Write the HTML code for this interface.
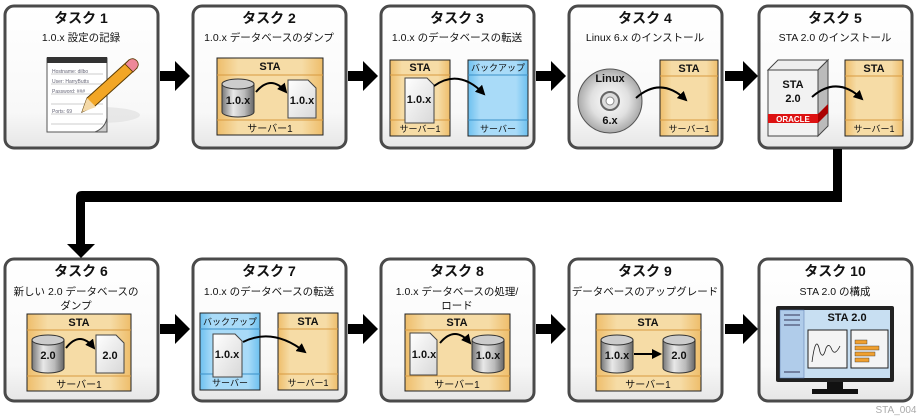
<!DOCTYPE html>
<html><head><meta charset="utf-8"><style>
html,body{margin:0;padding:0;background:#fff;width:922px;height:418px;overflow:hidden}
svg{display:block}
text{font-family:"Liberation Sans","Noto Sans CJK JP",sans-serif}
.t{font-size:14px;font-weight:bold;text-anchor:middle;fill:#111}
.s{font-size:10.5px;text-anchor:middle;fill:#111}
.b{font-size:11px;font-weight:bold;text-anchor:middle;fill:#111}
.f{font-size:10px;text-anchor:middle;fill:#111}
.g{font-size:9px;text-anchor:middle;fill:#111}
</style></head><body>
<svg width="922" height="418" viewBox="0 0 922 418" xmlns="http://www.w3.org/2000/svg">
<defs>
<linearGradient id="card" x1="0" y1="0" x2="0" y2="1"><stop offset="0" stop-color="#fff"/><stop offset="0.75" stop-color="#f8f8f8"/><stop offset="1" stop-color="#e6e6e6"/></linearGradient>
<linearGradient id="tan" x1="0" y1="0" x2="1" y2="0"><stop offset="0" stop-color="#eebd6a"/><stop offset="0.2" stop-color="#f6dca6"/><stop offset="0.8" stop-color="#f6dca6"/><stop offset="1" stop-color="#eebd6a"/></linearGradient>
<linearGradient id="blue" x1="0" y1="0" x2="1" y2="0"><stop offset="0" stop-color="#6cc0ef"/><stop offset="0.2" stop-color="#a9dbf8"/><stop offset="0.8" stop-color="#a9dbf8"/><stop offset="1" stop-color="#6cc0ef"/></linearGradient>
<linearGradient id="cyl" x1="0" y1="0" x2="1" y2="0"><stop offset="0" stop-color="#777"/><stop offset="0.35" stop-color="#e8e8e8"/><stop offset="0.7" stop-color="#bbb"/><stop offset="1" stop-color="#666"/></linearGradient>
<linearGradient id="doc" x1="0" y1="0" x2="1" y2="1"><stop offset="0" stop-color="#fff"/><stop offset="1" stop-color="#d8d8d8"/></linearGradient>
<radialGradient id="cd" cx="0.5" cy="0.5" r="0.5"><stop offset="0" stop-color="#fff"/><stop offset="0.6" stop-color="#e0e0e0"/><stop offset="1" stop-color="#aaa"/></radialGradient>
<marker id="ah" viewBox="0 0 10 10" refX="8" refY="5" markerWidth="5" markerHeight="5" orient="auto"><path d="M0,0 L10,5 L0,10 z" fill="#000"/></marker>
</defs>

<g stroke="#4a4a4a" stroke-width="3" fill="url(#card)">
<rect x="5" y="6" width="153" height="142" rx="9"/>
<rect x="193" y="6" width="153" height="142" rx="9"/>
<rect x="381" y="6" width="153" height="142" rx="9"/>
<rect x="569" y="6" width="153" height="142" rx="9"/>
<rect x="759" y="6" width="153" height="142" rx="9"/>
<rect x="5" y="259" width="153" height="142" rx="9"/>
<rect x="193" y="259" width="153" height="142" rx="9"/>
<rect x="381" y="259" width="153" height="142" rx="9"/>
<rect x="569" y="259" width="153" height="142" rx="9"/>
<rect x="759" y="259" width="153" height="142" rx="9"/>
</g>

<g fill="#000">
<path d="M160,71 h15 v-10 l15,15 l-15,15 v-10 h-15z"/>
<path d="M348,71 h15 v-10 l15,15 l-15,15 v-10 h-15z"/>
<path d="M536,71 h15 v-10 l15,15 l-15,15 v-10 h-15z"/>
<path d="M725,71 h18 v-10 l15,15 l-15,15 v-10 h-18z"/>
<path d="M160,324 h15 v-10 l15,15 l-15,15 v-10 h-15z"/>
<path d="M348,324 h15 v-10 l15,15 l-15,15 v-10 h-15z"/>
<path d="M536,324 h15 v-10 l15,15 l-15,15 v-10 h-15z"/>
<path d="M725,324 h18 v-10 l15,15 l-15,15 v-10 h-18z"/>
<path d="M833,149 h9 v53 h-757 v42 h10 l-14,14 l-14,-14 h9 v-47 q0,-6 6,-6 h751z"/>
</g>

<text class="t" x="81" y="23">タスク 1</text><text class="s" x="81" y="41">1.0.x 設定の記録</text>
<text class="t" x="269" y="23">タスク 2</text><text class="s" x="269" y="41">1.0.x データベースのダンプ</text>
<text class="t" x="457" y="23">タスク 3</text><text class="s" x="457" y="41">1.0.x のデータベースの転送</text>
<text class="t" x="645" y="23">タスク 4</text><text class="s" x="645" y="41">Linux 6.x のインストール</text>
<text class="t" x="835" y="23">タスク 5</text><text class="s" x="835" y="41">STA 2.0 のインストール</text>
<text class="t" x="81" y="276">タスク 6</text><text class="s" x="76" y="295">新しい 2.0 データベースの</text><text class="s" x="76" y="309">ダンプ</text>
<text class="t" x="269" y="276">タスク 7</text><text class="s" x="269" y="295">1.0.x のデータベースの転送</text>
<text class="t" x="457" y="276">タスク 8</text><text class="s" x="457" y="295">1.0.x データベースの処理/</text><text class="s" x="457" y="309">ロード</text>
<text class="t" x="645" y="276">タスク 9</text><text class="s" x="645" y="295">データベースのアップグレード</text>
<text class="t" x="835" y="276">タスク 10</text><text class="s" x="835" y="295">STA 2.0 の構成</text>
<text x="896" y="413" font-size="10" fill="#aaa" text-anchor="middle">STA_004</text>

<ellipse cx="100" cy="115" rx="40" ry="8" fill="#ddd" opacity="0.6"/>
<rect x="47" y="58" width="60" height="74" fill="#fff" stroke="#555"/>
<path d="M95,132 q10,-4 12,-14 v14z" fill="#ccc" stroke="#555"/>
<rect x="47" y="57" width="60" height="6" fill="#333"/>
<g stroke="#bbb" stroke-width="0.8"><line x1="51" y1="74" x2="103" y2="74"/><line x1="51" y1="84" x2="103" y2="84"/><line x1="51" y1="94" x2="103" y2="94"/><line x1="51" y1="104" x2="103" y2="104"/><line x1="51" y1="114" x2="103" y2="114"/><line x1="51" y1="124" x2="103" y2="124"/></g>
<text x="52" y="73" font-size="5" fill="#667">Hostname: dilbo</text><text x="52" y="83" font-size="5" fill="#667">User: HarryButts</text><text x="52" y="93" font-size="5" fill="#667">Password: ###</text><text x="52" y="113" font-size="5" fill="#667">Ports: 69</text>
<path d="M82,112 l5,-14 l42,-38 l8,8 l-42,38z" fill="#f2a626" stroke="#5a3a00" stroke-width="1"/>
<path d="M82,112 l5,-14 l9,9z" fill="#f4d9a8"/>
<path d="M125,64 l4,-4 q4,-3 8,1 q3,4 -1,8 l-3,3z" fill="#ee8899" stroke="#5a3a00" stroke-width="0.8"/>

<g><rect x="217" y="58" width="106" height="77" fill="url(#tan)" stroke="#222"/><line x1="217" y1="75" x2="323" y2="75" stroke="#d89a40"/><line x1="217" y1="120" x2="323" y2="120" stroke="#d89a40"/><text class="b" x="270" y="70">STA</text><text class="f" x="270" y="132">サーバー1</text></g>
<g><path d="M222,84 v28 a16,5 0 0 0 32,0 v-28z" fill="url(#cyl)" stroke="#333"/><ellipse cx="238" cy="84" rx="16" ry="5" fill="#ccc" stroke="#333"/><text class="b" x="238" y="104">1.0.x</text></g>
<path d="M288,80 h20 l8,8 v30 h-28z" fill="url(#doc)" stroke="#444"/><text class="b" x="302" y="104">1.0.x</text>
<path d="M256,92 q15,-18 30,0" fill="none" stroke="#000" stroke-width="2" marker-end="url(#ah)"/>

<rect x="390" y="60" width="60" height="76" fill="url(#tan)" stroke="#222"/><line x1="390" y1="75" x2="450" y2="75" stroke="#d89a40"/><line x1="390" y1="120" x2="450" y2="120" stroke="#d89a40"/><text class="b" x="420" y="71">STA</text><text class="g" x="420" y="132">サーバー1</text>
<path d="M405,78 h22 l7,7 v38 h-29z" fill="url(#doc)" stroke="#444"/><text class="b" x="419" y="103">1.0.x</text>
<rect x="468" y="60" width="60" height="76" fill="url(#blue)" stroke="#222"/><line x1="468" y1="75" x2="528" y2="75" stroke="#3a90c8"/><line x1="468" y1="120" x2="528" y2="120" stroke="#3a90c8"/><text class="g" x="498" y="71">バックアップ</text><text class="g" x="498" y="132">サーバー</text>
<path d="M434,86 q25,-18 50,8" fill="none" stroke="#000" stroke-width="2" marker-end="url(#ah)"/>

<circle cx="610" cy="101" r="32" fill="url(#cd)" stroke="#555"/><circle cx="610" cy="101" r="9" fill="#ddd" stroke="#666" stroke-width="2"/><circle cx="610" cy="101" r="4" fill="#fff" stroke="#888"/>
<text class="b" x="610" y="82">Linux</text><text class="b" x="610" y="124">6.x</text>
<rect x="660" y="60" width="58" height="76" fill="url(#tan)" stroke="#222"/><line x1="660" y1="76" x2="718" y2="76" stroke="#d89a40"/><line x1="660" y1="120" x2="718" y2="120" stroke="#d89a40"/><text class="b" x="689" y="72">STA</text><text class="g" x="689" y="132">サーバー1</text>
<path d="M636,98 q25,-22 50,2" fill="none" stroke="#000" stroke-width="2" marker-end="url(#ah)"/>

<path d="M768,70 l10,-10 h50 l-10,10z" fill="#eee" stroke="#444"/><path d="M818,70 l10,-10 v66 l-10,10z" fill="#bbb" stroke="#444"/>
<rect x="768" y="70" width="50" height="66" fill="#f2f2f2" stroke="#444"/>
<rect x="768" y="114" width="50" height="9" fill="#d11"/><path d="M818,114 l10,-10 v9 l-10,10z" fill="#a00"/>
<text x="793" y="122" font-size="8" font-weight="bold" fill="#fff" text-anchor="middle">ORACLE</text>
<text class="b" x="793" y="88">STA</text><text class="b" x="793" y="102">2.0</text>
<rect x="845" y="60" width="58" height="76" fill="url(#tan)" stroke="#222"/><line x1="845" y1="76" x2="903" y2="76" stroke="#d89a40"/><line x1="845" y1="120" x2="903" y2="120" stroke="#d89a40"/><text class="b" x="874" y="72">STA</text><text class="g" x="874" y="132">サーバー1</text>
<path d="M812,97 q25,-22 50,2" fill="none" stroke="#000" stroke-width="2" marker-end="url(#ah)"/>

<rect x="27" y="314" width="104" height="77" fill="url(#tan)" stroke="#222"/><line x1="27" y1="330" x2="131" y2="330" stroke="#d89a40"/><line x1="27" y1="376" x2="131" y2="376" stroke="#d89a40"/><text class="b" x="79" y="326">STA</text><text class="f" x="79" y="388">サーバー1</text>
<path d="M32,340 v28 a16,5 0 0 0 32,0 v-28z" fill="url(#cyl)" stroke="#333"/><ellipse cx="48" cy="340" rx="16" ry="5" fill="#ccc" stroke="#333"/><text class="b" x="48" y="359">2.0</text>
<path d="M96,335 h20 l8,8 v30 h-28z" fill="url(#doc)" stroke="#444"/><text class="b" x="110" y="359">2.0</text>
<path d="M66,348 q14,-18 28,0" fill="none" stroke="#000" stroke-width="2" marker-end="url(#ah)"/>

<rect x="200" y="313" width="60" height="77" fill="url(#blue)" stroke="#222"/><line x1="200" y1="329" x2="260" y2="329" stroke="#3a90c8"/><line x1="200" y1="374" x2="260" y2="374" stroke="#3a90c8"/><text class="g" x="230" y="325">バックアップ</text><text class="g" x="230" y="386">サーバー</text>
<path d="M213,334 h22 l7,7 v36 h-29z" fill="url(#doc)" stroke="#444"/><text class="b" x="227" y="358">1.0.x</text>
<rect x="278" y="313" width="60" height="77" fill="url(#tan)" stroke="#222"/><line x1="278" y1="329" x2="338" y2="329" stroke="#d89a40"/><line x1="278" y1="374" x2="338" y2="374" stroke="#d89a40"/><text class="b" x="308" y="325">STA</text><text class="g" x="308" y="386">サーバー1</text>
<path d="M243,342 q30,-15 62,10" fill="none" stroke="#000" stroke-width="2" marker-end="url(#ah)"/>

<rect x="405" y="314" width="105" height="77" fill="url(#tan)" stroke="#222"/><line x1="405" y1="330" x2="510" y2="330" stroke="#d89a40"/><line x1="405" y1="376" x2="510" y2="376" stroke="#d89a40"/><text class="b" x="457" y="326">STA</text><text class="f" x="457" y="388">サーバー1</text>
<path d="M410,333 h20 l7,7 v35 h-27z" fill="url(#doc)" stroke="#444"/><text class="b" x="424" y="358">1.0.x</text>
<path d="M472,340 v28 a16,5 0 0 0 32,0 v-28z" fill="url(#cyl)" stroke="#333"/><ellipse cx="488" cy="340" rx="16" ry="5" fill="#ccc" stroke="#333"/><text class="b" x="488" y="359">1.0.x</text>
<path d="M440,343 q15,-18 30,0" fill="none" stroke="#000" stroke-width="2" marker-end="url(#ah)"/>

<rect x="596" y="314" width="105" height="77" fill="url(#tan)" stroke="#222"/><line x1="596" y1="330" x2="701" y2="330" stroke="#d89a40"/><line x1="596" y1="376" x2="701" y2="376" stroke="#d89a40"/><text class="b" x="648" y="326">STA</text><text class="f" x="648" y="388">サーバー1</text>
<path d="M601,340 v28 a16,5 0 0 0 32,0 v-28z" fill="url(#cyl)" stroke="#333"/><ellipse cx="617" cy="340" rx="16" ry="5" fill="#ccc" stroke="#333"/><text class="b" x="617" y="359">1.0.x</text>
<path d="M663,340 v28 a16,5 0 0 0 32,0 v-28z" fill="url(#cyl)" stroke="#333"/><ellipse cx="679" cy="340" rx="16" ry="5" fill="#ccc" stroke="#333"/><text class="b" x="679" y="359">2.0</text>
<line x1="634" y1="354" x2="660" y2="354" stroke="#000" stroke-width="2" marker-end="url(#ah)"/>

<rect x="776" y="306" width="118" height="76" rx="2" fill="#222"/>
<rect x="780" y="310" width="110" height="68" fill="#c8dff2"/>
<rect x="780" y="310" width="24" height="68" fill="#b0ccea" stroke="#5577aa" stroke-width="0.5"/>
<g stroke="#335" stroke-width="1"><line x1="784" y1="315" x2="800" y2="315"/><line x1="784" y1="320" x2="800" y2="320"/><line x1="784" y1="325" x2="800" y2="325"/><line x1="784" y1="372" x2="800" y2="372"/></g>
<text class="b" x="847" y="321">STA 2.0</text>
<rect x="808" y="330" width="39" height="38" fill="#f4f4f4" stroke="#222"/>
<path d="M812,362 q4,-30 8,-10 q3,8 6,-4 q3,-6 6,2 q3,6 8,-4" fill="none" stroke="#222" stroke-width="0.8"/>
<rect x="851" y="330" width="37" height="38" fill="#f4f4f4" stroke="#222"/>
<g fill="#f0a030" stroke="#333" stroke-width="0.4"><rect x="855" y="340" width="12" height="4"/><rect x="855" y="346" width="24" height="4"/><rect x="855" y="352" width="20" height="4"/><rect x="855" y="358" width="14" height="4"/></g>
<rect x="827" y="382" width="16" height="8" fill="#111"/><rect x="812" y="389" width="46" height="5" fill="#111"/>
</svg>
</body></html>
